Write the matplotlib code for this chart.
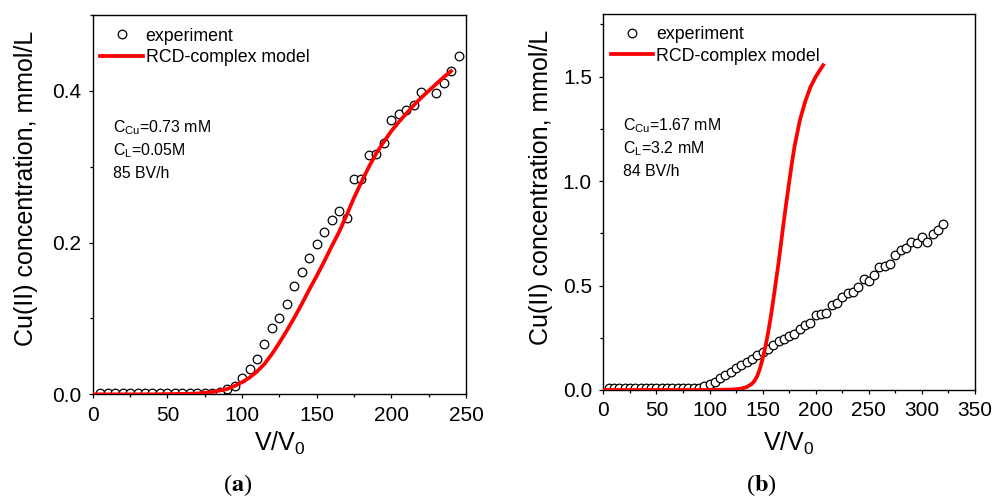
import matplotlib
matplotlib.use("Agg")
import matplotlib.pyplot as plt
from matplotlib.ticker import MultipleLocator

plt.rcParams['font.family'] = ['Liberation Sans', 'DejaVu Sans']
plt.rcParams['mathtext.fontset'] = 'custom'
plt.rcParams['mathtext.rm'] = 'Liberation Sans'
plt.rcParams['mathtext.it'] = 'Liberation Sans:italic'
plt.rcParams['mathtext.bf'] = 'Liberation Sans:bold'

# ---- panel (a): 0.73 mM Cu, 0.05 M ligand, 85 BV/h ----
exp_a_x = [5, 10, 15, 20, 25, 30, 35, 40, 45, 50, 55, 60, 65, 70, 75, 80, 85,
           90, 95, 100, 105, 110, 115, 120, 125, 130, 135, 140, 145, 150, 155,
           160, 165, 170, 175, 180, 185, 190, 195, 200, 205, 210, 215, 220,
           230, 235, 240, 245]
exp_a_y = [0.002, 0.002, 0.002, 0.002, 0.002, 0.002, 0.002, 0.002, 0.002,
           0.002, 0.002, 0.002, 0.002, 0.002, 0.002, 0.002, 0.003,
           0.007, 0.011, 0.022, 0.034, 0.046, 0.066, 0.087, 0.100, 0.119,
           0.143, 0.161, 0.180, 0.198, 0.214, 0.230, 0.242, 0.233, 0.284,
           0.284, 0.316, 0.317, 0.331, 0.361, 0.370, 0.375, 0.382, 0.398,
           0.397, 0.410, 0.426, 0.446]

model_a_x = [0, 20, 40, 60, 70, 80, 85, 90, 95, 100, 105, 110, 115, 120, 125,
             130, 135, 140, 145, 150, 155, 160, 165, 170, 175, 180, 185, 190,
             195, 200, 205, 210, 215, 220, 225, 230, 235, 240]
model_a_y = [0.0, 0.0, 0.0, 0.0005, 0.001, 0.003, 0.005, 0.007, 0.011, 0.016,
             0.022, 0.030, 0.040, 0.053, 0.068, 0.084, 0.101, 0.119, 0.138,
             0.156, 0.175, 0.195, 0.214, 0.236, 0.259, 0.280, 0.300, 0.318,
             0.333, 0.347, 0.359, 0.370, 0.381, 0.391, 0.400, 0.409, 0.418,
             0.426]

# ---- panel (b): 1.67 mM Cu, 3.2 mM ligand, 84 BV/h ----
exp_b_x = [5, 10, 15, 20, 25, 30, 35, 40, 45, 50, 55, 60, 65, 70, 75, 80, 85,
           90, 95, 100, 105, 110, 115, 120, 125, 130, 135, 140, 145, 150, 155,
           160, 165, 170, 175, 180, 185, 190, 195, 200, 205, 210, 215, 220,
           225, 230, 235, 240, 245, 250, 255, 260, 265, 270, 275, 280, 285,
           290, 295, 300, 305, 310, 315, 320]
exp_b_y = [0.008, 0.008, 0.008, 0.008, 0.008, 0.008, 0.008, 0.008, 0.008,
           0.008, 0.008, 0.008, 0.008, 0.008, 0.008, 0.008, 0.009, 0.011,
           0.018, 0.028, 0.040, 0.056, 0.072, 0.088, 0.104, 0.120, 0.136,
           0.147, 0.167, 0.183, 0.198, 0.215, 0.233, 0.245, 0.257, 0.268,
           0.290, 0.311, 0.322, 0.359, 0.364, 0.370, 0.407, 0.418, 0.443,
           0.462, 0.470, 0.491, 0.530, 0.523, 0.550, 0.587, 0.593, 0.603,
           0.645, 0.668, 0.678, 0.710, 0.702, 0.731, 0.710, 0.746, 0.766,
           0.794]

model_b_x = [0, 40, 80, 100, 110, 120, 125, 130, 135, 140, 142.5, 145, 147.5,
             150, 152.5, 155, 157.5, 160, 162.5, 165, 167.5, 170, 172.5, 175,
             177.5, 180, 185, 190, 195, 200, 205, 207]
model_b_y = [0.0, 0.0, 0.0, 0.0, 0.001, 0.002, 0.004, 0.007, 0.014, 0.030,
             0.045, 0.068, 0.103, 0.150, 0.205, 0.270, 0.345, 0.430, 0.520,
             0.610, 0.710, 0.810, 0.905, 0.995, 1.085, 1.165, 1.290, 1.380,
             1.450, 1.500, 1.540, 1.555]

panels = [
    dict(rect=[0.0933, 0.2066, 0.3755, 0.7632], ex=exp_a_x, ey=exp_a_y,
         mx=model_a_x, my=model_a_y, xlim=(0, 250), ylim=(0, 0.5),
         xmaj=50, xmin=25, ymaj=0.2, ymin=0.1,
         notes=[r'C$_{\mathrm{Cu}}$=0.73 mM', r'C$_{\mathrm{L}}$=0.05M', '85 BV/h'],
         tag='a', tagx=238 / 994),
    dict(rect=[0.6070, 0.2153, 0.3739, 0.7565], ex=exp_b_x, ey=exp_b_y,
         mx=model_b_x, my=model_b_y, xlim=(0, 350), ylim=(0, 1.8),
         xmaj=50, xmin=25, ymaj=0.5, ymin=0.25,
         notes=[r'C$_{\mathrm{Cu}}$=1.67 mM', r'C$_{\mathrm{L}}$=3.2 mM', '84 BV/h'],
         tag='b', tagx=761 / 994),
]

fig = plt.figure(figsize=(9.94, 4.97), dpi=100)

for p in panels:
    ax = fig.add_axes(p['rect'])
    ax.plot(p['ex'], p['ey'], linestyle='none', marker='o', markersize=6.2,
            markerfacecolor='white', markeredgecolor='black',
            markeredgewidth=0.9, label='experiment', zorder=2)
    ax.plot(p['mx'], p['my'], color='#ff0000', linewidth=2.7,
            label='RCD-complex model', zorder=3)
    ax.set_xlim(*p['xlim'])
    ax.set_ylim(*p['ylim'])
    ax.xaxis.set_major_locator(MultipleLocator(p['xmaj']))
    ax.xaxis.set_minor_locator(MultipleLocator(p['xmin']))
    ax.yaxis.set_major_locator(MultipleLocator(p['ymaj']))
    ax.yaxis.set_minor_locator(MultipleLocator(p['ymin']))
    ax.yaxis.set_major_formatter(plt.FuncFormatter(lambda v, _: f'{v:.1f}'))
    ax.tick_params(which='major', direction='out', length=3.2, width=0.9,
                   labelsize=15, pad=5)
    ax.tick_params(which='minor', direction='out', length=2.0, width=0.9)
    for s in ax.spines.values():
        s.set_linewidth(1.0)

    ax.set_ylabel('Cu(II) concentration, mmol/L', fontsize=18)
    ax.set_xlabel(r'V/V$_0$', fontsize=18)

    ax.legend(loc='upper left', bbox_to_anchor=(0.02, 0.967),
              frameon=False, fontsize=12.8, handlelength=2.4,
              handletextpad=0.15, labelspacing=0.24, borderpad=0,
              borderaxespad=0)

    for txt, yy in zip(p['notes'], [0.692, 0.630, 0.570]):
        ax.text(0.054, yy, txt, transform=ax.transAxes, fontsize=11.4,
                ha='left', va='baseline')

    fig.text(p['tagx'], 12 / 497, '(' + r'$\mathbf{' + p['tag'] + '}$' + ')',
             ha='center', va='center', fontsize=17.5,
             family='Liberation Serif', math_fontfamily='stix')

axes = fig.axes
axes[0].yaxis.set_label_coords(-0.147, 0.544)
axes[1].yaxis.set_label_coords(-0.135, 0.539)
axes[0].xaxis.set_label_coords(0.5, -0.094)
axes[1].xaxis.set_label_coords(0.5, -0.106)

fig.savefig('out.png', dpi=100)
